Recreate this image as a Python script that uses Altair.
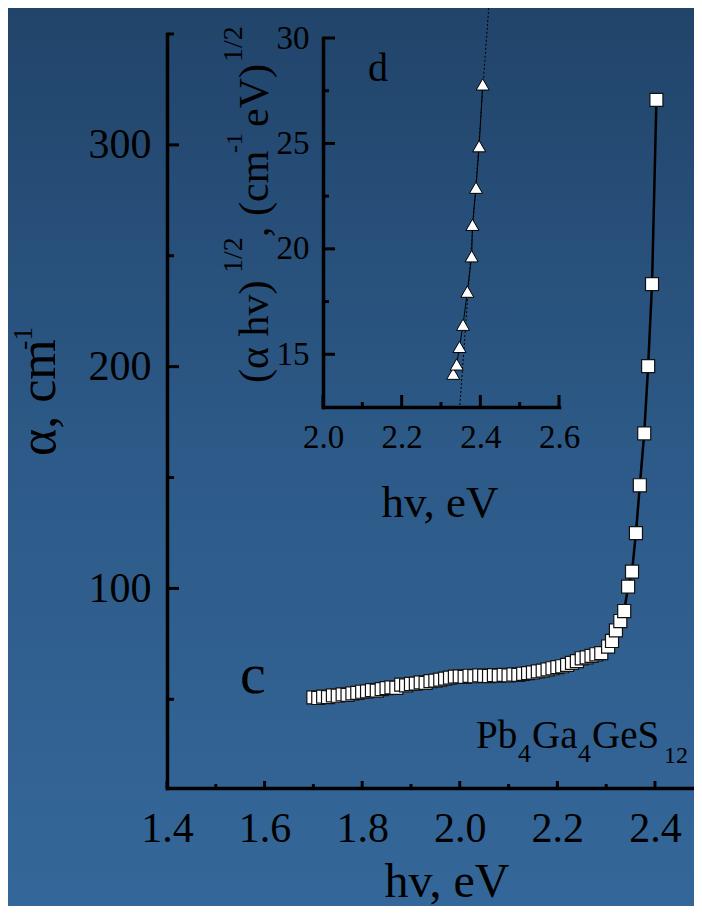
import altair as alt
import pandas as pd

# ---------------- data ----------------
hv_main = [1.70, 1.71, 1.72, 1.73, 1.74, 1.75, 1.76, 1.77, 1.78, 1.79,
           1.80, 1.81, 1.82, 1.83, 1.84, 1.85, 1.86, 1.87, 1.88, 1.89,
           1.90, 1.91, 1.92, 1.93, 1.94, 1.95, 1.96, 1.97, 1.98, 1.99,
           2.00, 2.01, 2.02, 2.03, 2.04, 2.05, 2.06, 2.07, 2.08, 2.09,
           2.10, 2.11, 2.12, 2.13, 2.14, 2.15, 2.16, 2.17, 2.18, 2.19,
           2.20, 2.21, 2.22, 2.23, 2.24, 2.25, 2.26, 2.27, 2.28, 2.29,
           2.304, 2.312, 2.320, 2.329, 2.337, 2.345, 2.353, 2.361, 2.369,
           2.378, 2.386, 2.394, 2.403]
alpha_main = [50.9, 50.6, 51.2, 51.0, 51.8, 51.6, 52.2, 52.0, 52.7, 52.9,
              53.4, 53.6, 54.1, 53.9, 54.6, 55.0, 55.4, 55.2, 56.6, 56.3,
              56.9, 57.1, 57.6, 57.4, 58.2, 58.4, 58.9, 59.3, 59.8, 60.2,
              60.3, 60.1, 60.6, 60.4, 60.8, 60.6, 60.5, 60.9, 60.7, 61.0,
              60.8, 61.2, 61.0, 61.5, 61.8, 62.1, 62.6, 62.9, 63.5, 64.0,
              64.5, 64.9, 65.5, 66.4, 67.2, 68.5, 68.9, 69.6, 70.3, 70.8,
              73.8, 76.3, 81.1, 85.3, 89.8, 100.8, 107.6, 124.9, 146.5,
              169.9, 200.2, 237.2, 320.3]

hv_inset = [2.331, 2.340, 2.347, 2.356, 2.367, 2.378, 2.380, 2.389, 2.397, 2.406]
root_inset = [14.08, 14.52, 15.35, 16.40, 17.97, 19.65, 21.14, 22.90, 24.87, 27.80]

hv_fit = [2.348, 2.422]
root_fit = [12.6, 31.6]

main_x_major = [1.4, 1.6, 1.8, 2.0, 2.2, 2.4]
main_x_minor = [1.5, 1.7, 1.9, 2.1, 2.3]
main_y_major = [100, 200, 300]
main_y_minor = [50, 150, 250, 350]
inset_x_major = [2.0, 2.2, 2.4, 2.6]
inset_x_minor = [2.1, 2.3, 2.5]
inset_y_major = [15, 20, 25, 30]
inset_y_minor = [17.5, 22.5, 27.5]

# ---------------- layout ----------------
W, H = 527, 754
PL, PT, PB = 159, 26, 118
FONT = "Liberation Serif"
IX0, IX1 = 156, 392      # inset x pixel range inside plot
IY0, IY1 = 373, 4        # inset y pixel range inside plot

main_df = pd.DataFrame({"hv": hv_main, "alpha": alpha_main})
inset_df = pd.DataFrame({"hv": hv_inset, "root": root_inset})
fit_df = pd.DataFrame({"hv": hv_fit, "root": root_fit})
one = pd.DataFrame({"k": [0]})

xs = alt.Scale(domain=[1.4, 2.48], nice=False, zero=False)
ys = alt.Scale(domain=[10, 350], nice=False, zero=False)
ixs = alt.Scale(domain=[2.0, 2.6], range=[IX0, IX1], nice=False, zero=False)
iys = alt.Scale(domain=[12.5, 30], range=[IY0, IY1], nice=False, zero=False)


def axis(values, fmt, size, pad, **extra):
    return alt.Axis(values=values, format=fmt, title=None, ticks=False, grid=False,
                    domainColor="black", domainWidth=3.5, domainCap="square",
                    labelFont=FONT, labelFontSize=size, labelColor="black",
                    labelPadding=pad, labelFlush=False, labelOverlap=False,
                    zindex=2, **extra)


main_xaxis = axis(main_x_major, ".1f", 42, 20)
main_yaxis = axis(main_y_major, "d", 42, 16)
inset_xaxis = axis(inset_x_major, ".1f", 33, 14, orient="bottom", offset=IY0 - H)
inset_yaxis = axis(inset_y_major, "d", 33, 14, orient="left", offset=-IX0)

# background gradient
bg = alt.Chart(one).mark_rect(
    fill=alt.LinearGradient(
        gradient="linear",
        stops=[alt.GradientStop(color="#21446a", offset=0),
               alt.GradientStop(color="#2d5a88", offset=0.5),
               alt.GradientStop(color="#346799", offset=1)],
        x1=0, x2=0, y1=0, y2=1),
    strokeWidth=0,
).encode(x=alt.value(-PL), x2=alt.value(W), y=alt.value(-PT), y2=alt.value(H + PB))


def tick_rules(values, scale, ax, fixed0, fixed1, orient):
    df = pd.DataFrame({"v": values})
    ch = alt.Chart(df).mark_rule(color="black", strokeWidth=3)
    if orient == "y":
        return ch.encode(y=alt.Y("v:Q", scale=scale, axis=ax),
                         x=alt.value(fixed0), x2=alt.value(fixed1))
    return ch.encode(x=alt.X("v:Q", scale=scale, axis=ax),
                     y=alt.value(fixed0), y2=alt.value(fixed1))


line_main = alt.Chart(main_df).mark_line(color="black", strokeWidth=2.5).encode(
    x=alt.X("hv:Q", scale=xs, axis=main_xaxis),
    y=alt.Y("alpha:Q", scale=ys, axis=main_yaxis),
)
pts_main = alt.Chart(main_df).mark_point(
    shape="square", filled=True, fill="white", stroke="#111111", strokeWidth=1.2,
    size=170, opacity=1,
).encode(
    x=alt.X("hv:Q", scale=xs, axis=main_xaxis),
    y=alt.Y("alpha:Q", scale=ys, axis=main_yaxis),
)


def txt(s, x, y, size, angle=0, align="left"):
    kw = dict(text=s, font=FONT, fontSize=size, color="black", align=align,
              baseline="alphabetic")
    if angle:
        kw["angle"] = angle
    return alt.Chart(one).mark_text(**kw).encode(x=alt.value(x), y=alt.value(y))


texts = [
    txt("c", 73, 659, 58),
    txt("d", 201, 47, 40),
    txt("Pb", 309, 714, 39), txt("4", 351, 728, 26),
    txt("Ga", 365, 714, 39), txt("4", 411, 728, 26),
    txt("GeS", 425, 714, 39), txt("12", 497, 729, 24),
    txt("hv, eV", 280, 863, 48, align="center"),
    txt("α, cm", -112, 422, 52, angle=270),
    txt("-1", -135, 316, 28, angle=270),
    txt("hv, eV", 273, 483, 45, align="center"),
    txt("(α hv)", 101, 349, 42, angle=270),
    txt("1/2", 75, 239, 28, angle=270),
    txt(", (cm", 101, 203, 42, angle=270),
    txt("-1", 75, 119, 24, angle=270),
    txt("eV)", 101, 93, 42, angle=270),
    txt("1/2", 75, 28, 28, angle=270),
]

main_layer = alt.layer(
    bg,
    tick_rules(main_y_major, ys, main_yaxis, 0, 12, "y"),
    tick_rules(main_y_minor, ys, main_yaxis, 0, 7, "y"),
    tick_rules(main_x_major, xs, main_xaxis, H, H - 7, "x"),
    tick_rules(main_x_minor, xs, main_xaxis, H, H - 4, "x"),
    line_main,
    pts_main,
    *texts,
)

fit_line = alt.Chart(fit_df).mark_line(color="black", strokeWidth=1, strokeDash=[2, 2]).encode(
    x=alt.X("hv:Q", scale=ixs, axis=inset_xaxis),
    y=alt.Y("root:Q", scale=iys, axis=inset_yaxis),
)
inset_line = alt.Chart(inset_df).mark_line(color="black", strokeWidth=1).encode(
    x=alt.X("hv:Q", scale=ixs, axis=inset_xaxis),
    y=alt.Y("root:Q", scale=iys, axis=inset_yaxis),
)
inset_pts = alt.Chart(inset_df).mark_point(
    shape="triangle-up", filled=True, fill="white", stroke="black", strokeWidth=1,
    size=170, opacity=1,
).encode(
    x=alt.X("hv:Q", scale=ixs, axis=inset_xaxis),
    y=alt.Y("root:Q", scale=iys, axis=inset_yaxis),
)

inset_layer = alt.layer(
    tick_rules(inset_y_major, iys, inset_yaxis, IX0, IX0 + 12, "y"),
    tick_rules(inset_y_minor, iys, inset_yaxis, IX0, IX0 + 6, "y"),
    tick_rules(inset_x_major, ixs, inset_xaxis, IY0, IY0 - 12, "x"),
    tick_rules(inset_x_minor, ixs, inset_xaxis, IY0, IY0 - 5, "x"),
    fit_line,
    inset_line,
    inset_pts,
)

chart = alt.layer(main_layer, inset_layer).resolve_scale(
    x="independent", y="independent"
).properties(
    width=W, height=H,
    padding={"left": PL, "top": PT, "right": 0, "bottom": PB},
    autosize=alt.AutoSizeParams(type="none"),
).configure_view(strokeWidth=0).configure(background="#2d5a88")

chart.save("out.html", embed_options={"renderer": "svg", "actions": False})
